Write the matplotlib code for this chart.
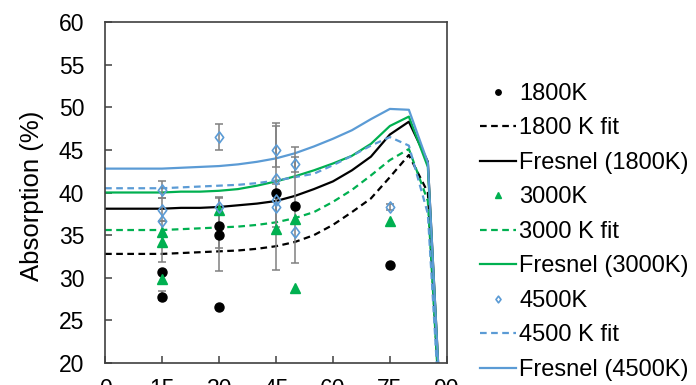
import numpy as np
import matplotlib
matplotlib.use('Agg')
import matplotlib.pyplot as plt
from matplotlib.path import Path

plt.rcParams['font.family'] = ['Liberation Sans', 'DejaVu Sans']

# Fresnel / fit curves, every 5 degrees
angle = [0, 5, 10, 15, 20, 25, 30, 35, 40, 45, 50, 55, 60, 65, 70, 75, 80, 85, 90]
fresnel_1800 = [38.1, 38.1, 38.1, 38.1, 38.2, 38.2, 38.3, 38.5, 38.7, 39.0, 39.6, 40.4, 41.3, 42.6, 44.2, 46.8, 48.3, 43.6, 0]
fresnel_3000 = [40.0, 40.0, 40.0, 40.0, 40.1, 40.1, 40.2, 40.4, 40.8, 41.3, 41.9, 42.6, 43.4, 44.3, 45.7, 47.8, 48.9, 43.0, 0]
fresnel_4500 = [42.8, 42.8, 42.8, 42.8, 42.9, 43.0, 43.1, 43.3, 43.6, 44.0, 44.6, 45.4, 46.3, 47.3, 48.6, 49.8, 49.7, 43.5, 0]
fit_1800 = [32.8, 32.8, 32.8, 32.8, 32.9, 33.0, 33.1, 33.2, 33.4, 33.7, 34.2, 35.0, 36.2, 37.7, 39.3, 41.8, 44.4, 40.0, 0]
fit_3000 = [35.6, 35.6, 35.6, 35.6, 35.7, 35.8, 35.9, 36.0, 36.2, 36.5, 37.0, 37.7, 38.9, 40.3, 42.0, 43.8, 45.1, 39.0, 0]
fit_4500 = [40.5, 40.5, 40.5, 40.5, 40.6, 40.7, 40.8, 40.9, 41.1, 41.4, 41.8, 42.2, 43.2, 44.3, 45.5, 46.5, 45.5, 37.5, 0]

# measured points
x_1800 = [15, 15, 30, 30, 30, 45, 50, 75]
y_1800 = [30.7, 27.8, 36.1, 35.0, 26.6, 39.9, 38.4, 31.5]
x_3000 = [15, 15, 15, 30, 45, 50, 50, 75]
y_3000 = [35.4, 34.2, 29.8, 37.9, 35.7, 36.9, 28.8, 36.6]
x_4500 = [15, 15, 15, 30, 30, 45, 45, 45, 45, 50, 50, 75]
y_4500 = [40.3, 38.0, 36.6, 46.5, 38.3, 45.0, 41.6, 39.1, 38.3, 43.3, 35.4, 38.3]

# error bars
err_x = [15, 15, 15, 15, 30, 30, 30, 45, 45, 45, 50, 50, 75]
err_y = [40.3, 38.0, 34.3, 27.9, 46.5, 36.5, 35.1, 39.5, 45.4, 38.5, 38.5, 43.3, 38.3]
err_e = [1.0, 1.3, 2.4, 0.5, 1.5, 3.0, 4.3, 8.6, 2.4, 2.5, 6.8, 0.9, 0.4]

blk = '#000000'
grn = '#00b050'
blu = '#5b9bd5'

# slightly narrow diamond like the Excel one
diamond = Path([(0, 1), (0.75, 0), (0, -1), (-0.75, 0), (0, 1)],
               [Path.MOVETO, Path.LINETO, Path.LINETO, Path.LINETO, Path.CLOSEPOLY])

fig = plt.figure(figsize=(6.96, 3.85), dpi=100)
ax = fig.add_axes([0.151, 0.057, 0.491, 0.886])

ax.errorbar(err_x, err_y, yerr=err_e, fmt='none', ecolor='#808080', elinewidth=1.1,
            capsize=3, capthick=1.1, zorder=3)

ax.plot(x_1800, y_1800, 'o', color=blk, markersize=6.5, label='1800K', zorder=4)
ax.plot(angle, fit_1800, '--', color=blk, lw=1.6, dashes=(3, 2), label='1800 K fit', zorder=2)
ax.plot(angle, fresnel_1800, '-', color=blk, lw=1.6, label='Fresnel (1800K)', zorder=2)
ax.plot(x_3000, y_3000, '^', color=grn, markersize=6.5, label='3000K', zorder=4)
ax.plot(angle, fit_3000, '--', color=grn, lw=1.6, dashes=(3, 2), label='3000 K fit', zorder=2)
ax.plot(angle, fresnel_3000, '-', color=grn, lw=1.6, label='Fresnel (3000K)', zorder=2)
ax.plot(x_4500, y_4500, linestyle='none', marker=diamond, color=blu, markersize=8,
        markerfacecolor='none', markeredgewidth=1.2, label='4500K', zorder=4)
ax.plot(angle, fit_4500, '--', color=blu, lw=1.6, dashes=(3, 2), label='4500 K fit', zorder=2)
ax.plot(angle, fresnel_4500, '-', color=blu, lw=1.6, label='Fresnel (4500K)', zorder=2)

ax.set_xlim(0, 90)
ax.set_ylim(20, 60)
ax.set_xticks(np.arange(0, 91, 15))
ax.set_yticks(np.arange(20, 61, 5))
ax.tick_params(direction='in', length=5, width=1.1, color='#404040', labelsize=16.5)
ax.tick_params(axis='y', pad=15)
ax.tick_params(axis='x', pad=11)
for s in ax.spines.values():
    s.set_color('#404040')
    s.set_linewidth(1.2)

ax.set_ylabel('Absorption (%)', fontsize=18.5)
ax.yaxis.set_label_coords(-0.18, 0.49)

fig.legend(loc='upper left', bbox_to_anchor=(0.69, 0.785), frameon=False, fontsize=17,
           borderpad=0, borderaxespad=0, handlelength=1.5, handletextpad=0.15,
           labelspacing=0.53, markerscale=0.6)

fig.savefig('out.png', dpi=100)
